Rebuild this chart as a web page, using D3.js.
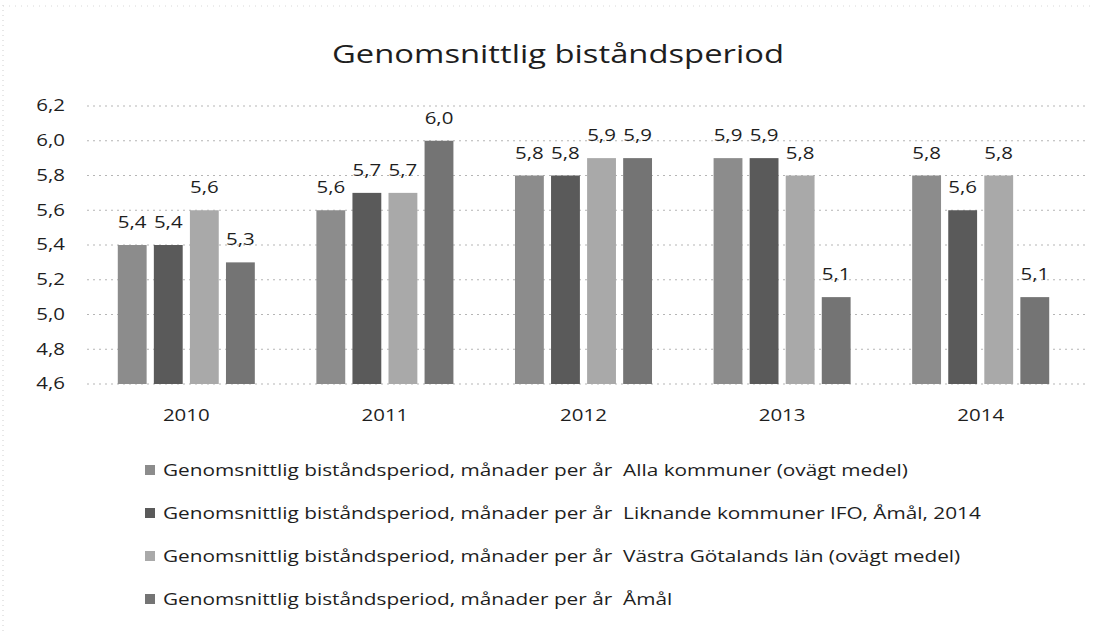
<!DOCTYPE html>
<html>
<head>
<meta charset="utf-8">
<script src="https://cdn.jsdelivr.net/npm/d3@7"></script>
<style>
  html, body { margin: 0; padding: 0; background: #fff; }
  svg { display: block; }
  text { font-family: "Open Sans", Lato, sans-serif; fill: #1e1e1e; }
</style>
</head>
<body>
<svg id="chart" width="1093" height="634"></svg>
<script>
const categories = ["2010", "2011", "2012", "2013", "2014"];
const seriesNames = [
  "Genomsnittlig biståndsperiod, månader per år  Alla kommuner (ovägt medel)",
  "Genomsnittlig biståndsperiod, månader per år  Liknande kommuner IFO, Åmål, 2014",
  "Genomsnittlig biståndsperiod, månader per år  Västra Götalands län (ovägt medel)",
  "Genomsnittlig biståndsperiod, månader per år  Åmål"
];
const allaKommuner = [5.4, 5.6, 5.8, 5.9, 5.8];
const liknandeKommuner = [5.4, 5.7, 5.8, 5.9, 5.6];
const vastraGotaland = [5.6, 5.7, 5.9, 5.8, 5.8];
const amal = [5.3, 6.0, 5.9, 5.1, 5.1];
const yTicks = [4.6, 4.8, 5.0, 5.2, 5.4, 5.6, 5.8, 6.0, 6.2];
const title = "Genomsnittlig biståndsperiod";

const seriesValues = [allaKommuner, liknandeKommuner, vastraGotaland, amal];
const colors = ["#8c8c8c", "#5a5a5a", "#a9a9a9", "#747474"];

const svg = d3.select("#chart");
const fmt = v => d3.format(".1f")(v).replace(".", ",");

// horizontally stretch text (the reference scan is wide-set)
function stretch(sel, k) {
  sel.each(function() {
    const w = this.getComputedTextLength();
    this.setAttribute("textLength", (w * k).toFixed(1));
    this.setAttribute("lengthAdjust", "spacingAndGlyphs");
  });
}

// faint scan border
svg.append("line").attr("x1", 3).attr("x2", 3).attr("y1", 5).attr("y2", 634)
  .attr("stroke", "#cfcfcf").attr("stroke-dasharray", "1,4");
svg.append("line").attr("x1", 3).attr("x2", 1093).attr("y1", 6).attr("y2", 6)
  .attr("stroke", "#d8d8d8").attr("stroke-dasharray", "1,5");

const plotLeft = 87, plotRight = 1080, gridRight = 1085, plotTop = 106, plotBottom = 384;
const y = d3.scaleLinear().domain([4.6, 6.2]).range([plotBottom, plotTop]);
const x0 = d3.scaleBand().domain(categories).range([plotLeft, plotRight]).paddingInner(0.31).paddingOuter(0.155);
const x1 = d3.scaleBand().domain(d3.range(4)).range([0, x0.bandwidth()]).paddingInner(0.2);

const t = svg.append("text").attr("x", 558).attr("y", 63).attr("text-anchor", "middle")
  .style("font-size", "26px").text(title);
stretch(t, 1.26);

// gridlines
svg.append("g").selectAll("line").data(yTicks).join("line")
  .attr("x1", plotLeft).attr("x2", gridRight)
  .attr("y1", d => y(d)).attr("y2", d => y(d))
  .attr("stroke", "#b5b5b5").attr("stroke-dasharray", "2,4");

// y axis labels
const yAxis = d3.axisLeft(y).tickValues(yTicks).tickFormat(fmt).tickSize(0).tickPadding(0);
const gy = svg.append("g").attr("transform", `translate(${plotLeft - 22},0)`).call(yAxis);
gy.select(".domain").remove();
gy.selectAll("text").style("font-size", "15.5px").attr("fill", "#1e1e1e").style("font-family", "'Open Sans', sans-serif");
stretch(gy.selectAll("text"), 1.32);

// x axis labels
const xAxis = d3.axisBottom(x0).tickSize(0).tickPadding(0);
const gx = svg.append("g").attr("transform", `translate(0,${plotBottom + 26})`).call(xAxis);
gx.select(".domain").remove();
gx.selectAll("text").style("font-size", "15.5px").attr("fill", "#1e1e1e").style("font-family", "'Open Sans', sans-serif");
stretch(gx.selectAll("text"), 1.32);

// bars
const groups = svg.append("g").selectAll("g").data(categories).join("g")
  .attr("transform", d => `translate(${x0(d)},0)`);
groups.selectAll("rect").data((c, ci) => seriesValues.map((s, si) => ({si, v: s[ci]}))).join("rect")
  .attr("x", d => x1(d.si)).attr("width", x1.bandwidth())
  .attr("y", d => y(d.v)).attr("height", d => plotBottom - y(d.v))
  .attr("fill", d => colors[d.si]);
const lbls = groups.selectAll("text.lbl").data((c, ci) => seriesValues.map((s, si) => ({si, v: s[ci]}))).join("text")
  .attr("class", "lbl")
  .attr("x", d => x1(d.si) + x1.bandwidth() / 2).attr("y", d => y(d.v) - 17)
  .attr("text-anchor", "middle").style("font-size", "16px").text(d => fmt(d.v));
stretch(lbls, 1.28);

// legend
const legendX = 145, legendTextX = 18, legendLine1Width = 745;
const leg = svg.append("g").selectAll("g").data(seriesNames).join("g")
  .attr("transform", (d, i) => `translate(${legendX},${470 + i * 43})`);
leg.append("rect").attr("x", 0).attr("y", -5).attr("width", 10).attr("height", 10)
  .attr("fill", (d, i) => colors[i]);
const lt = leg.append("text").attr("x", legendTextX).attr("y", 0).attr("dy", "0.35em")
  .style("font-size", "16.5px").style("white-space", "pre").attr("xml:space", "preserve").text(d => d);
const legendK = legendLine1Width / lt.node().getComputedTextLength();
stretch(lt, legendK);
</script>
</body>
</html>
